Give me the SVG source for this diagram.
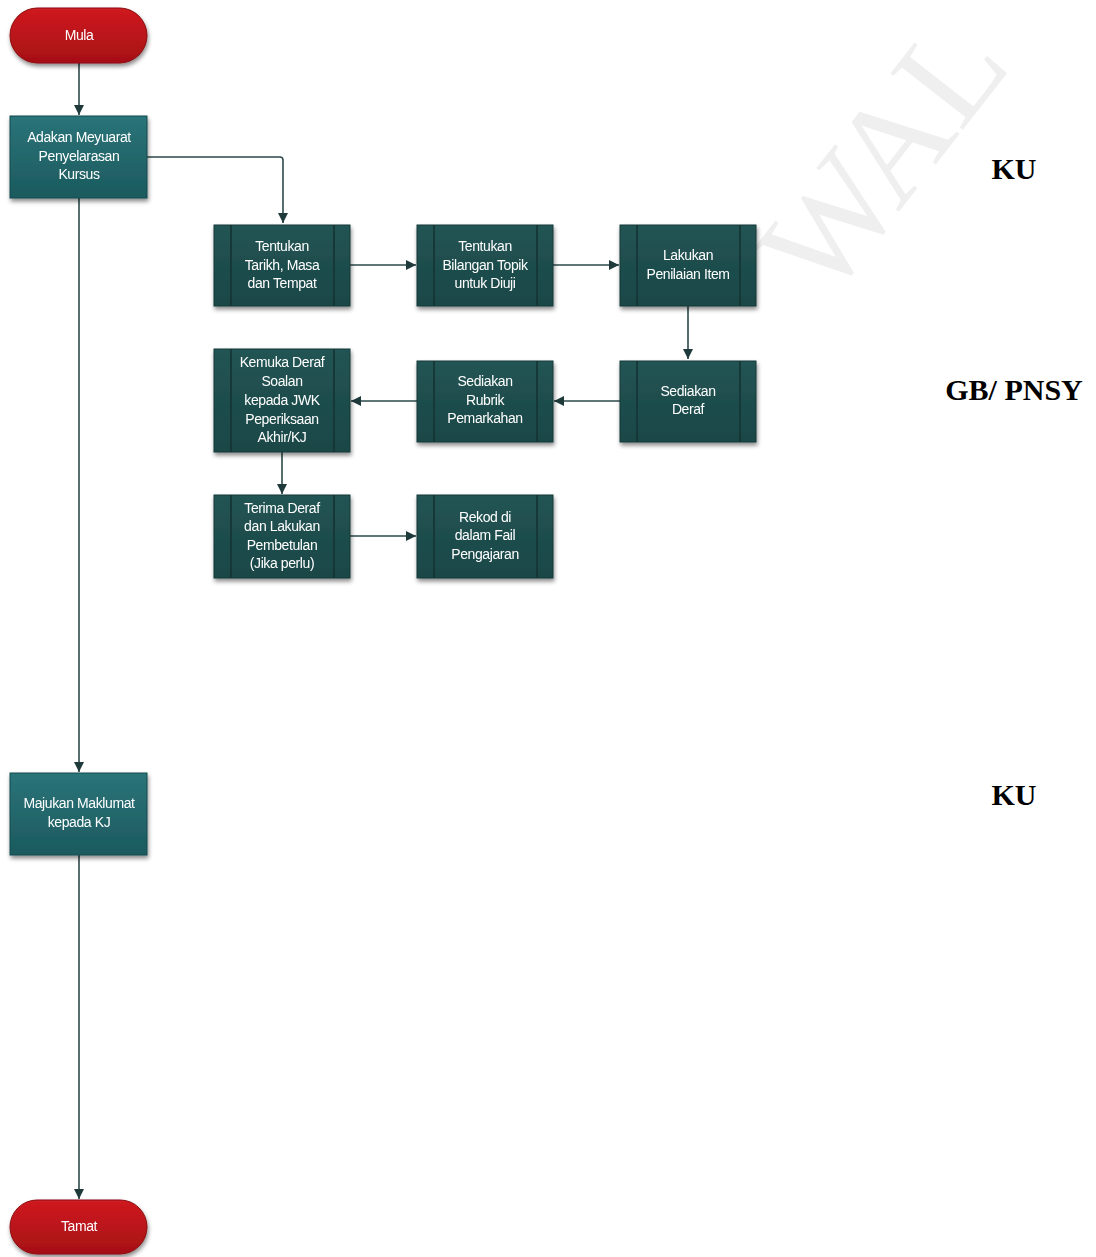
<svg xmlns="http://www.w3.org/2000/svg" width="1096" height="1257" viewBox="0 0 1096 1257">
<defs>
<style>
.t{font-family:"Liberation Sans",Arial,sans-serif;font-size:14px;fill:#ffffff;text-anchor:middle;letter-spacing:-0.4px}
.lbl{font-family:"Liberation Serif","Times New Roman",serif;font-size:30px;font-weight:bold;fill:#000;text-anchor:middle}
.c{fill:none;stroke:#2c4a4a;stroke-width:1.6}
.pp{fill:url(#gp);stroke:#143838;stroke-width:1}
.in{stroke:#123232;stroke-width:1.5}
.pr{fill:url(#gt);stroke:#154a50;stroke-width:1}
.term{fill:url(#gr);stroke:#8a0d10;stroke-width:1}
</style>
<linearGradient id="gr" x1="0" y1="0" x2="0" y2="1"><stop offset="0" stop-color="#cf1a20"/><stop offset="1" stop-color="#a51015"/></linearGradient>
<linearGradient id="gt" x1="0" y1="0" x2="0" y2="1"><stop offset="0" stop-color="#2a7479"/><stop offset="1" stop-color="#1c5a5e"/></linearGradient>
<linearGradient id="gp" x1="0" y1="0" x2="0" y2="1"><stop offset="0" stop-color="#235454"/><stop offset="1" stop-color="#1b4646"/></linearGradient>
<filter id="sh" x="-20%" y="-20%" width="140%" height="150%"><feDropShadow dx="1" dy="3" stdDeviation="2.2" flood-color="#000" flood-opacity="0.45"/></filter>
<marker id="ar" viewBox="0 0 10 10" refX="10" refY="5" markerWidth="10" markerHeight="10" markerUnits="userSpaceOnUse" orient="auto"><path d="M0,0 L10,5 L0,10 z" fill="#1e3a3a"/></marker>
</defs>
<rect width="1096" height="1257" fill="#ffffff"/>
<text x="885" y="202" transform="rotate(-52 885 158)" font-family="Liberation Serif,serif" font-size="140" fill="#efefef" text-anchor="middle">WAL</text>
<g id="connectors">
<path class="c" d="M79,63 V115" marker-end="url(#ar)"/>
<path class="c" d="M147,157 H280 Q283,157 283,160 V223" marker-end="url(#ar)"/>
<path class="c" d="M79,198 V772" marker-end="url(#ar)"/>
<path class="c" d="M79,855 V1199" marker-end="url(#ar)"/>
<path class="c" d="M350,265 H416" marker-end="url(#ar)"/>
<path class="c" d="M553,265 H619" marker-end="url(#ar)"/>
<path class="c" d="M688,306 V359" marker-end="url(#ar)"/>
<path class="c" d="M620,401 H554" marker-end="url(#ar)"/>
<path class="c" d="M417,401 H351" marker-end="url(#ar)"/>
<path class="c" d="M282,452 V494" marker-end="url(#ar)"/>
<path class="c" d="M350,536 H416" marker-end="url(#ar)"/>
</g>
<g id="mula" filter="url(#sh)"><rect class="term" x="10" y="8" width="137" height="55" rx="27.5"/><text class="t" x="79" y="40">Mula</text></g>
<g id="adakan" filter="url(#sh)"><rect class="pr" x="10" y="116" width="137" height="82"/><text class="t" x="79" y="142">Adakan Meyuarat</text><text class="t" x="79" y="161">Penyelarasan</text><text class="t" x="79" y="179">Kursus</text></g>
<g id="tarikh" filter="url(#sh)"><rect class="pp" x="214" y="225" width="136" height="81"/><path class="in" d="M231,225 V306 M334,225 V306"/><text class="t" x="282" y="251">Tentukan</text><text class="t" x="282" y="270">Tarikh, Masa</text><text class="t" x="282" y="288">dan Tempat</text></g>
<g id="topik" filter="url(#sh)"><rect class="pp" x="417" y="225" width="136" height="81"/><path class="in" d="M434,225 V306 M537,225 V306"/><text class="t" x="485" y="251">Tentukan</text><text class="t" x="485" y="270">Bilangan Topik</text><text class="t" x="485" y="288">untuk Diuji</text></g>
<g id="penilaian" filter="url(#sh)"><rect class="pp" x="620" y="225" width="136" height="81"/><path class="in" d="M637,225 V306 M740,225 V306"/><text class="t" x="688" y="260">Lakukan</text><text class="t" x="688" y="279">Penilaian Item</text></g>
<g id="deraf" filter="url(#sh)"><rect class="pp" x="620" y="361" width="136" height="81"/><path class="in" d="M637,361 V442 M740,361 V442"/><text class="t" x="688" y="396">Sediakan</text><text class="t" x="688" y="414">Deraf</text></g>
<g id="rubrik" filter="url(#sh)"><rect class="pp" x="417" y="361" width="136" height="81"/><path class="in" d="M434,361 V442 M537,361 V442"/><text class="t" x="485" y="386">Sediakan</text><text class="t" x="485" y="405">Rubrik</text><text class="t" x="485" y="423">Pemarkahan</text></g>
<g id="kemuka" filter="url(#sh)"><rect class="pp" x="214" y="349" width="136" height="103"/><path class="in" d="M231,349 V452 M334,349 V452"/><text class="t" x="282" y="367">Kemuka Deraf</text><text class="t" x="282" y="386">Soalan</text><text class="t" x="282" y="405">kepada JWK</text><text class="t" x="282" y="424">Peperiksaan</text><text class="t" x="282" y="442">Akhir/KJ</text></g>
<g id="terima" filter="url(#sh)"><rect class="pp" x="214" y="495" width="136" height="83"/><path class="in" d="M231,495 V578 M334,495 V578"/><text class="t" x="282" y="513">Terima Deraf</text><text class="t" x="282" y="531">dan Lakukan</text><text class="t" x="282" y="550">Pembetulan</text><text class="t" x="282" y="568">(Jika perlu)</text></g>
<g id="rekod" filter="url(#sh)"><rect class="pp" x="417" y="495" width="136" height="83"/><path class="in" d="M434,495 V578 M537,495 V578"/><text class="t" x="485" y="522">Rekod di</text><text class="t" x="485" y="540">dalam Fail</text><text class="t" x="485" y="559">Pengajaran</text></g>
<g id="majukan" filter="url(#sh)"><rect class="pr" x="10" y="773" width="137" height="82"/><text class="t" x="79" y="808">Majukan Maklumat</text><text class="t" x="79" y="827">kepada KJ</text></g>
<g id="tamat" filter="url(#sh)"><rect class="term" x="10" y="1200" width="137" height="54" rx="27"/><text class="t" x="79" y="1231">Tamat</text></g>
<g id="labels"><text class="lbl" x="1014" y="179">KU</text><text class="lbl" x="1014" y="400">GB/ PNSY</text><text class="lbl" x="1014" y="805">KU</text></g>
</svg>
